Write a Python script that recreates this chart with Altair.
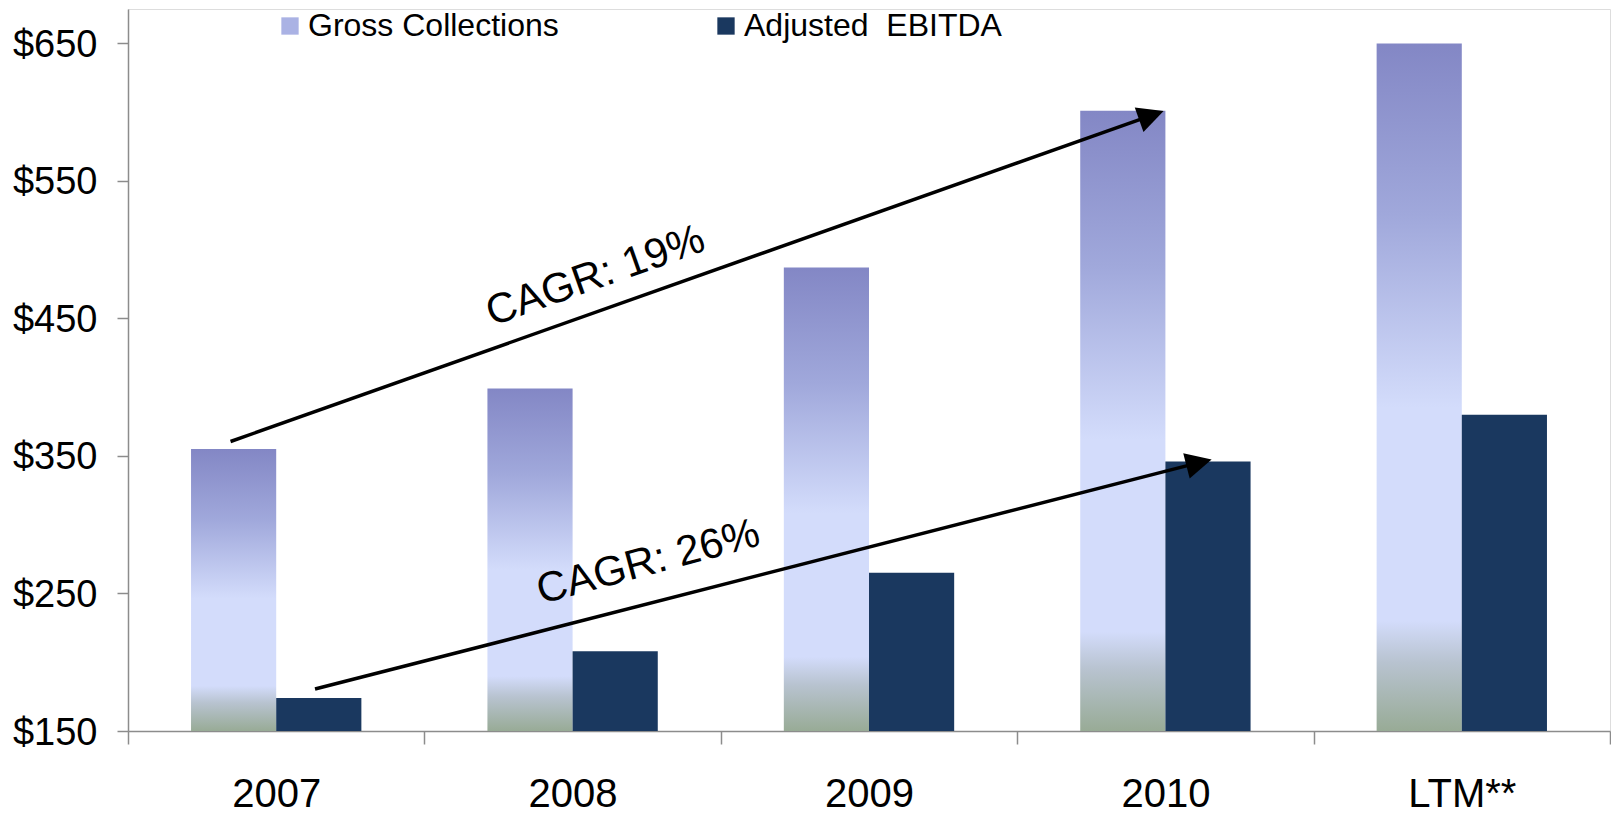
import math
import altair as alt
import pandas as pd

# ---------------- data ----------------
categories = ["2007", "2008", "2009", "2010", "LTM**"]
gross_collections = [355, 399, 487, 601, 650]
adjusted_ebitda = [174, 208, 265, 346, 380]
series_names = ["Gross Collections", "Adjusted\u00a0 EBITDA"]
y_ticks = [150, 250, 350, 450, 550, 650]
y_max = 675

# CAGR arrows: x in category units (0..5), y in $
arrow_x_start = [0.346, 0.631]
arrow_y_start = [360.5, 180.5]
arrow_x_tip = [3.494, 3.656]
arrow_y_tip = [600.8, 347.5]
cagr_labels = ["CAGR: 19%", "CAGR: 26%"]
cagr_label_x = [1.577, 1.755]
cagr_label_y = [481.0, 273.0]
cagr_label_angle = [340.5, 345.0]

# ---------------- layout / style ----------------
FONT = "Liberation Sans"
GRAY = "#8c8c8c"
W, H = 1482, 722
px_x = W / len(categories)
px_y = H / (y_max - y_ticks[0])
HEAD = 26  # arrowhead length in px

gradient = {
    "gradient": "linear", "x1": 0, "y1": 0, "x2": 0, "y2": 1,
    "stops": [
        {"offset": 0.0, "color": "#8387c5"},
        {"offset": 0.25, "color": "#a0a8db"},
        {"offset": 0.53, "color": "#d3dcfb"},
        {"offset": 0.84, "color": "#d3dcfb"},
        {"offset": 0.90, "color": "#b8c3d0"},
        {"offset": 1.0, "color": "#98ab96"},
    ],
}

rows = []
for c, g, e in zip(categories, gross_collections, adjusted_ebitda):
    rows.append({"category": c, "series": series_names[0], "value": g})
    rows.append({"category": c, "series": series_names[1], "value": e})
bars_df = pd.DataFrame(rows)

arrows = []
for xs, ys, xt, yt in zip(arrow_x_start, arrow_y_start, arrow_x_tip, arrow_y_tip):
    dxp = (xt - xs) * px_x
    dyp = (yt - ys) * px_y
    L = math.hypot(dxp, dyp)
    ux, uy = dxp / L, dyp / L
    arrows.append({
        "x": xs, "y": ys,
        "x2": xt - (HEAD - 8) * ux / px_x, "y2": yt - (HEAD - 8) * uy / px_y,
        "tx": xt, "ty": yt,
        "ang": 360 - math.degrees(math.atan2(dyp, dxp)),
    })
arrows_df = pd.DataFrame(arrows)
labels_df = pd.DataFrame({"label": cagr_labels, "x": cagr_label_x,
                          "y": cagr_label_y, "ang": cagr_label_angle})

y_scale = alt.Scale(domain=[y_ticks[0], y_max], nice=False, zero=False)
ann_x = alt.Scale(domain=[0, len(categories)], nice=False, zero=False)

bars = alt.Chart(bars_df).mark_bar(opacity=1).encode(
    x=alt.X("category:N", sort=categories,
            scale=alt.Scale(paddingInner=0, paddingOuter=0),
            axis=alt.Axis(title=None, labelAngle=0, labelFontSize=40, labelFont=FONT,
                          labelColor="#000000", labelPadding=30, tickBand="extent",
                          tickSize=13, tickColor=GRAY, tickWidth=1.5,
                          domainColor=GRAY, domainWidth=1.5)),
    xOffset=alt.XOffset("series:N", sort=series_names,
                        scale=alt.Scale(domain=series_names, paddingInner=0, paddingOuter=0.74)),
    y=alt.Y("value:Q", scale=y_scale,
            axis=alt.Axis(title=None, values=y_ticks, labelExpr="'$' + datum.value",
                          labelFontSize=38, labelFont=FONT, labelColor="#000000",
                          labelPadding=20, labelOffset=2, tickSize=11, tickColor=GRAY,
                          tickWidth=1.5, domainColor=GRAY, domainWidth=1.5, grid=False)),
    y2=alt.datum(y_ticks[0]),
    color=alt.condition(
        f"datum.series === '{series_names[0]}'",
        alt.value(gradient),
        alt.Color("series:N",
                  scale=alt.Scale(domain=series_names, range=["#aab2e4", "#1a385f"]),
                  legend=alt.Legend(orient="none", legendX=146, legendY=1,
                                    direction="horizontal", title=None,
                                    labelFontSize=32, labelFont=FONT, labelColor="#000000",
                                    labelLimit=500, symbolType="square", symbolSize=300,
                                    symbolStrokeWidth=0, columnPadding=151,
                                    labelOffset=2, padding=0)),
    ),
)

lines = alt.Chart(arrows_df).mark_rule(color="black", strokeWidth=3.5).encode(
    x=alt.X("x:Q", scale=ann_x, axis=None),
    x2="x2:Q",
    y=alt.Y("y:Q", title=None),
    y2="y2:Q",
)

heads = alt.Chart(arrows_df).mark_point(
    shape="M0,0L-2,-1L-2,1Z", filled=True, color="black", opacity=1,
    size=(HEAD) ** 2, strokeWidth=0,
).encode(
    x=alt.X("tx:Q", scale=ann_x, axis=None),
    y=alt.Y("ty:Q", title=None),
    angle=alt.Angle("ang:Q", scale=None),
)

texts = alt.Chart(labels_df).mark_text(
    font=FONT, fontSize=42, color="black", align="center", baseline="middle",
).encode(
    x=alt.X("x:Q", scale=ann_x, axis=None),
    y=alt.Y("y:Q", title=None),
    text="label:N",
    angle=alt.Angle("ang:Q", scale=None),
)

ann = alt.layer(lines, heads, texts)

chart = alt.layer(bars, ann).resolve_scale(x="independent").properties(
    width=W, height=H,
    autosize=alt.AutoSizeParams(type="none"),
    padding={"left": 120, "top": 1, "right": 1, "bottom": 83},
).configure_view(stroke=None).configure(background="white")

chart.save("out.html", embed_options={"renderer": "svg", "actions": False})
